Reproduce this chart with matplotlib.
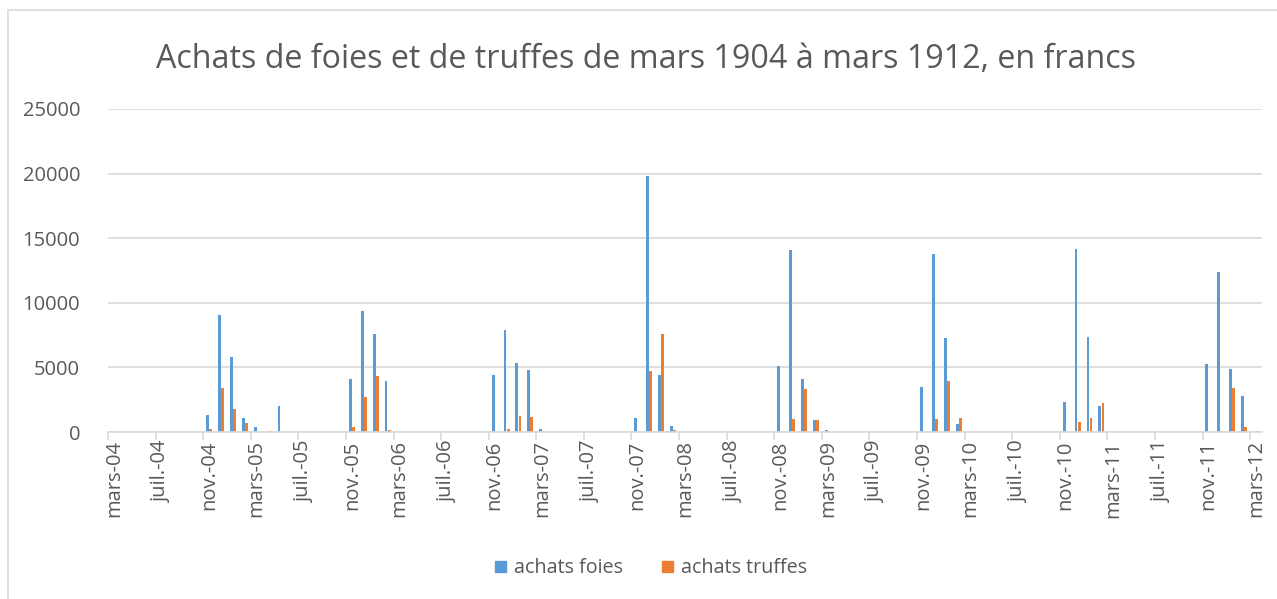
import numpy as np
import matplotlib.pyplot as plt
from matplotlib.patches import Rectangle, Patch

# monthly purchases, one row per year from March to February (last row = March 1912)
achats_foies = [
    0, 0, 0, 0, 0, 0, 0, 0, 1290, 9030, 5780, 1060,
    360, 0, 2010, 0, 0, 0, 0, 0, 4100, 9370, 7560, 3950,
    0, 0, 0, 0, 0, 0, 0, 0, 4390, 7920, 5320, 4800,
    230, 0, 0, 0, 0, 0, 0, 0, 1100, 19840, 4410, 490,
    0, 0, 0, 0, 0, 0, 0, 0, 5130, 14060, 4080, 900,
    150, 0, 0, 0, 0, 0, 0, 0, 3460, 13780, 7280, 620,
    0, 0, 0, 0, 0, 0, 0, 0, 2320, 14160, 7330, 2010,
    0, 0, 0, 0, 0, 0, 0, 0, 5260, 12410, 4880, 2790,
    0,
]
achats_truffes = [
    0, 0, 0, 0, 0, 0, 0, 0, 255, 3380, 1780, 700,
    0, 80, 0, 0, 0, 0, 0, 0, 390, 2680, 4310, 150,
    0, 0, 0, 0, 0, 0, 0, 0, 0, 260, 1260, 1140,
    0, 0, 0, 0, 0, 0, 0, 0, 30, 4740, 7610, 130,
    20, 0, 0, 0, 0, 0, 0, 0, 0, 1010, 3330, 930,
    0, 0, 0, 0, 0, 0, 0, 0, 0, 980, 3950, 1080,
    0, 0, 0, 0, 0, 0, 0, 0, 0, 770, 1080, 2220,
    0, 0, 0, 0, 0, 0, 0, 0, 0, 60, 3380, 410,
    100,
]
mois_noms = {3: 'mars', 7: 'juil.', 11: 'nov.'}
annee_debut = 1904

n = len(achats_foies)
x = np.arange(n)
labels = []
for i in range(0, n, 4):
    mois = (2 + i) % 12 + 1
    annee = annee_debut + (2 + i) // 12
    labels.append(f"{mois_noms[mois]}-{annee % 100:02d}")

plt.rcParams['font.family'] = ['Open Sans', 'DejaVu Sans']
gris = '#595959'
bleu = '#5B9BD5'
orange = '#ED7D31'

fig = plt.figure(figsize=(12.77, 5.99), dpi=100)
fig.patches.append(Rectangle((8 / 1277, -0.01), 1.0, 1 - 10 / 599 + 0.01,
                             transform=fig.transFigure, fill=False,
                             edgecolor='#D9D9D9', linewidth=1.2))
ax = fig.add_axes([108 / 1277, 167 / 599, 1154 / 1277, 323 / 599])

w = 0.24
ax.bar(x - w / 2 - 0.01, achats_foies, width=w, color=bleu, label='achats foies')
ax.bar(x + w / 2 + 0.01, achats_truffes, width=w, color=orange, label='achats truffes')

ax.set_xlim(-0.5, n - 0.5)
ax.set_ylim(0, 25000)
ax.set_yticks(np.arange(0, 25001, 5000))
ax.yaxis.grid(True, color='#D9D9D9', linewidth=1.2)
ax.set_axisbelow(True)
for s in ['left', 'right', 'top']:
    ax.spines[s].set_visible(False)
ax.spines['bottom'].set_color('#D9D9D9')
ax.spines['bottom'].set_linewidth(1.2)

ax.set_xticks(np.arange(-0.5, n, 4))
ax.set_xticklabels([])
ax.tick_params(axis='x', which='major', length=6, color='#D9D9D9', width=1.2)
ax.set_xticks(np.arange(0, n, 4), minor=True)
ax.set_xticklabels(labels, minor=True, rotation=90, fontsize=14.5, color=gris)
ax.tick_params(axis='x', which='minor', length=0, pad=6)
ax.tick_params(axis='y', length=0, pad=20, labelsize=14.5, labelcolor=gris)

fig.text(0.506, 0.9, 'Achats de foies et de truffes de mars 1904 à mars 1912, en francs',
         ha='center', va='center', fontsize=23.2, color=gris)

handles = [Patch(color=bleu), Patch(color=orange)]
fig.legend(handles, ['achats foies', 'achats truffes'], loc='center',
           bbox_to_anchor=(0.51, 0.051), ncol=2, frameon=False, fontsize=14.2,
           handlelength=0.55, handleheight=0.55, handletextpad=0.4,
           columnspacing=2.0, labelcolor=gris)

fig.savefig('out.png', dpi=100)
